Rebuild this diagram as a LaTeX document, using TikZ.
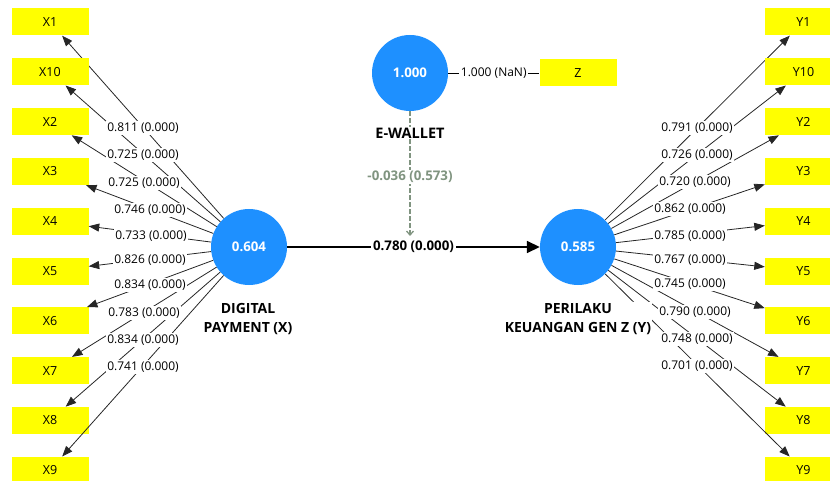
\documentclass[tikz,border=0pt]{standalone}
\usepackage{fontspec}
\setmainfont{Open Sans}
\usepackage{tikz}
\usepackage{xcolor}
\usetikzlibrary{arrows.meta}

\definecolor{lvblue}{RGB}{30,144,255}
\definecolor{indyellow}{RGB}{255,255,0}
\definecolor{modgrey}{RGB}{128,148,128}

\begin{document}
\begin{tikzpicture}[x=1pt,y=-1pt,
  lv/.style={circle,fill=lvblue,minimum size=76pt,inner sep=0pt,text=white,
    font=\fontsize{13.3}{15}\selectfont\bfseries},
  ind/.style={fill=indyellow,minimum width=77pt,minimum height=27pt,inner sep=0pt,
    font=\fontsize{12.5}{14}\selectfont},
  lvname/.style={fill=white,inner sep=1pt,align=center,font=\fontsize{14}{19}\selectfont\bfseries},
  loadline/.style={line width=0.8pt,draw=black!85,-{Triangle[length=10.5pt,width=8pt]}},
  loadlbl/.style={fill=white,inner sep=1.5pt,font=\fontsize{12}{14}\selectfont}]

\clip (0,0) rectangle (830,481);

% constructs
\node[lv] (dp) at (249,247) {0.604};
\node[lv] (gz) at (578,247) {0.585};
\node[lv] (ew) at (410,73) {1.000};

% indicators, both sides
\foreach \nm [count=\i from 0] in {1,10,2,3,4,5,6,7,8,9} {
  \node[ind] (x\nm) at (50,22+49.8*\i) {X\nm};
  \node[ind] (y\nm) at (803.5,22+49.8*\i) {Y\nm};
  \draw[loadline] (dp) -- (x\nm);
  \draw[loadline] (gz) -- (y\nm);
}
\node[ind] (z) at (578,73) {Z};

% single item of the moderator
\draw[line width=0.8pt] (ew) -- (z) node[loadlbl,midway] (zl) {1.000 (NaN)};

% moderating effect
\coordinate (ewtip) at (410,236);
\draw[modgrey,line width=1.3pt,dash pattern=on 5pt off 2pt,-{Straight Barb[length=4pt,width=7pt]}]
  (ew) -- (ewtip);
\node[lvname,text=modgrey,font=\fontsize{13.3}{15}\selectfont\bfseries] (modl) at (410,177) {-0.036 (0.573)};

% structural path
\draw[line width=1.6pt,-{Triangle[length=13pt,width=12pt]}] (dp) -- (gz)
  node[midway,fill=white,inner sep=2pt,font=\fontsize{13.3}{15}\selectfont\bfseries] (pl) {0.780 (0.000)};

% outer loadings
\foreach \v/\lx/\ly [count=\i] in {0.811/143/128,0.725/143/155,0.725/144/183,0.746/150/210,
    0.733/151/236,0.826/150/260,0.834/150/285,0.783/144/313,0.834/143/340,0.741/143/367}
  \node[loadlbl] (lx\i) at (\lx,\ly) {\v{} (0.000)};
\foreach \v/\lx/\ly [count=\i] in {0.791/697/128,0.726/697/155,0.720/695/182,0.862/690/209,
    0.785/690/236,0.767/690/260,0.745/690/284,0.790/695/312,0.748/697/339,0.701/697/366}
  \node[loadlbl] (ly\i) at (\lx,\ly) {\v{} (0.000)};

% construct names
\node[lvname,font=\fontsize{14.5}{17}\selectfont\bfseries] (ewn) at (410,133) {E-WALLET};
\node[lvname] (dpn) at (248,319) {DIGITAL\\PAYMENT (X)};
\node[lvname] (gzn) at (578,319) {PERILAKU\\KEUANGAN GEN Z (Y)};

\end{tikzpicture}
\end{document}
